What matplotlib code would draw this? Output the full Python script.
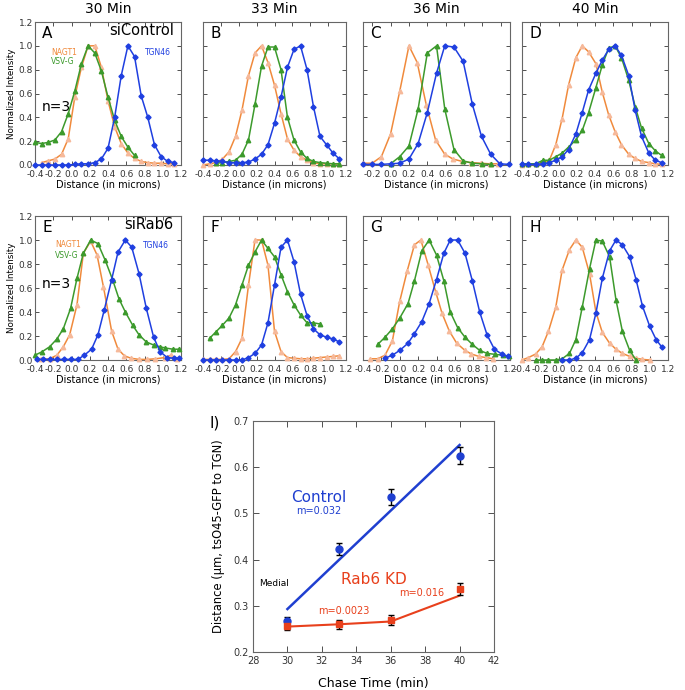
import matplotlib
matplotlib.use("Agg")
import matplotlib.pyplot as plt
import numpy as np

plt.rcParams['font.family'] = ['DejaVu Sans']

# ---------------- data ----------------
col_titles = ["30 Min", "33 Min", "36 Min", "40 Min"]
panel_letters = ["A", "B", "C", "D", "E", "F", "G", "H"]

grid = [-0.400, -0.327, -0.255, -0.182, -0.109, -0.036, 0.036, 0.109, 0.182, 0.255, 0.327,
        0.400, 0.473, 0.545, 0.618, 0.691, 0.764, 0.836, 0.909, 0.982, 1.055, 1.127]

# Panel A (siControl, 30 min)
A_nagt1_x = grid[1:22]
A_nagt1_y = [0.02, 0.035, 0.05, 0.09, 0.22, 0.57, 0.82, 1.0, 1.0, 0.82, 0.54, 0.32, 0.18, 0.10,
             0.055, 0.03, 0.02, 0.015, 0.015, 0.01, 0.01]
A_vsvg_x = grid[0:16]
A_vsvg_y = [0.19, 0.18, 0.19, 0.21, 0.28, 0.43, 0.62, 0.85, 1.0, 0.94, 0.79, 0.57, 0.375, 0.24,
            0.15, 0.08]
A_tgn_x = grid[0:22]
A_tgn_y = [0.0, 0.0, 0.0, 0.0, 0.0, 0.0, 0.005, 0.01, 0.01, 0.02, 0.05, 0.14, 0.40, 0.75, 1.0,
           0.91, 0.58, 0.40, 0.17, 0.07, 0.03, 0.02]

# Panel B (33 min)
B_nagt1_x = grid[0:22]
B_nagt1_y = [0.0, 0.01, 0.02, 0.05, 0.11, 0.24, 0.46, 0.75, 0.94, 1.0, 0.86, 0.67, 0.43, 0.22,
             0.125, 0.07, 0.04, 0.02, 0.01, 0.01, 0.01, 0.005]
B_vsvg_x = grid[2:22]
B_vsvg_y = [0.015, 0.02, 0.03, 0.04, 0.09, 0.21, 0.51, 0.83, 0.99, 0.99, 0.80, 0.40, 0.21, 0.11,
            0.055, 0.03, 0.02, 0.015, 0.01, 0.01]
B_tgn_x = grid[0:22]
B_tgn_y = [0.04, 0.04, 0.035, 0.03, 0.02, 0.02, 0.02, 0.025, 0.05, 0.09, 0.17, 0.35, 0.57, 0.82,
           0.97, 1.0, 0.80, 0.49, 0.24, 0.17, 0.10, 0.05]

# Panel C (36 min)
C_nagt1_x = [-0.30, -0.20, -0.10, 0.00, 0.10, 0.20, 0.29, 0.39, 0.49, 0.59, 0.68, 0.78, 0.88,
             0.98, 1.08, 1.17]
C_nagt1_y = [0.015, 0.015, 0.07, 0.26, 0.62, 1.0, 0.86, 0.5, 0.21, 0.09, 0.05, 0.03, 0.02, 0.015,
             0.01, 0.01]
C_vsvg_x = [0.0, 0.1, 0.2, 0.3, 0.4, 0.5, 0.59, 0.69, 0.79, 0.89, 0.99, 1.09]
C_vsvg_y = [0.01, 0.07, 0.16, 0.47, 0.94, 1.0, 0.47, 0.13, 0.035, 0.015, 0.01, 0.005]
C_tgn_x = [-0.3, -0.2, -0.1, 0.0, 0.1, 0.2, 0.3, 0.4, 0.5, 0.59, 0.69, 0.79, 0.89, 0.99, 1.09,
           1.19, 1.29]
C_tgn_y = [0.005, 0.005, 0.005, 0.01, 0.015, 0.05, 0.18, 0.44, 0.77, 1.0, 0.99, 0.87, 0.51, 0.24,
           0.09, 0.01, 0.005]

# Panel D (40 min)
D_x = [-0.40, -0.33, -0.25, -0.17, -0.10, -0.03, 0.04, 0.11, 0.19, 0.26, 0.33, 0.41, 0.48, 0.55,
       0.62, 0.69, 0.77, 0.84, 0.91, 0.99, 1.06, 1.13]
D_nagt1_y = [0.0, 0.005, 0.01, 0.015, 0.04, 0.17, 0.39, 0.67, 0.90, 1.0, 0.95, 0.85, 0.61, 0.42,
             0.28, 0.17, 0.09, 0.055, 0.03, 0.02, 0.01, 0.005]
D_vsvg_y = [0.01, 0.01, 0.01, 0.04, 0.04, 0.07, 0.10, 0.15, 0.21, 0.29, 0.44, 0.65, 0.84, 0.98,
            1.0, 0.90, 0.71, 0.49, 0.31, 0.18, 0.12, 0.08]
D_tgn_y = [0.005, 0.005, 0.005, 0.01, 0.02, 0.04, 0.07, 0.13, 0.26, 0.44, 0.63, 0.77, 0.88, 0.97,
           1.0, 0.92, 0.75, 0.46, 0.24, 0.10, 0.04, 0.02]

# Panel E (siRab6, 30 min)
E_nagt1_x = [-0.33, -0.24, -0.16, -0.09, -0.02, 0.06, 0.13, 0.21, 0.28, 0.35, 0.44, 0.51, 0.58,
             0.65, 0.74, 0.83, 0.92, 1.02, 1.09, 1.16]
E_nagt1_y = [0.005, 0.01, 0.04, 0.11, 0.21, 0.46, 0.89, 0.99, 0.875, 0.61, 0.24, 0.09, 0.035,
             0.015, 0.005, 0.005, 0.01, 0.02, 0.04, 0.01]
E_vsvg_x = [-0.40, -0.32, -0.24, -0.16, -0.09, -0.01, 0.06, 0.13, 0.21, 0.29, 0.37, 0.45, 0.52,
            0.59, 0.67, 0.74, 0.82, 0.90, 0.97, 1.03, 1.11, 1.18]
E_vsvg_y = [0.04, 0.07, 0.11, 0.175, 0.26, 0.43, 0.68, 0.89, 1.0, 0.97, 0.83, 0.67, 0.51, 0.40,
            0.29, 0.21, 0.15, 0.125, 0.11, 0.10, 0.09, 0.09]
E_tgn_x = [-0.38, -0.31, -0.24, -0.16, -0.08, -0.01, 0.07, 0.14, 0.22, 0.29, 0.36, 0.44, 0.51,
           0.59, 0.66, 0.74, 0.82, 0.90, 0.97, 1.05, 1.12, 1.18]
E_tgn_y = [0.005, 0.005, 0.005, 0.005, 0.005, 0.005, 0.005, 0.04, 0.09, 0.21, 0.42, 0.67, 0.90,
           1.0, 0.94, 0.72, 0.43, 0.19, 0.07, 0.02, 0.015, 0.015]

# Panel F (33 min)
F_nagt1_x = grid[0:22]
F_nagt1_y = [0.005, 0.005, 0.005, 0.005, 0.01, 0.07, 0.18, 0.625, 1.0, 1.0, 0.79, 0.24, 0.07,
             0.02, 0.015, 0.01, 0.01, 0.015, 0.02, 0.025, 0.03, 0.035]
F_vsvg_x = grid[1:19]
F_vsvg_y = [0.18, 0.235, 0.29, 0.35, 0.46, 0.625, 0.79, 0.90, 1.0, 0.93, 0.86, 0.71, 0.57, 0.46,
            0.375, 0.31, 0.31, 0.30]
F_tgn_x = grid[0:22]
F_tgn_y = [0.0, 0.0, 0.0, 0.0, 0.0, 0.0, 0.0, 0.02, 0.055, 0.125, 0.31, 0.625, 0.94, 1.0, 0.82,
           0.55, 0.37, 0.26, 0.21, 0.19, 0.175, 0.15]

# Panel G (36 min)
G_nagt1_x = [-0.32, -0.24, -0.16, -0.08, 0.0, 0.08, 0.16, 0.23, 0.31, 0.39, 0.46, 0.54, 0.62,
             0.71, 0.78, 0.86, 0.94, 1.02]
G_nagt1_y = [0.01, 0.01, 0.04, 0.16, 0.49, 0.74, 0.96, 1.0, 0.79, 0.57, 0.39, 0.24, 0.14, 0.08,
             0.05, 0.03, 0.02, 0.01]
G_vsvg_x = [-0.24, -0.16, -0.08, 0.0, 0.09, 0.16, 0.24, 0.32, 0.40, 0.48, 0.55, 0.63, 0.71, 0.79,
            0.87, 0.95, 1.04, 1.12, 1.19]
G_vsvg_y = [0.13, 0.19, 0.26, 0.35, 0.47, 0.66, 0.91, 1.0, 0.875, 0.66, 0.40, 0.27, 0.19, 0.13,
            0.08, 0.055, 0.047, 0.04, 0.03]
G_tgn_x = [-0.16, -0.08, 0.0, 0.09, 0.16, 0.24, 0.32, 0.40, 0.48, 0.55, 0.63, 0.71, 0.79, 0.87,
           0.95, 1.03, 1.11, 1.18]
G_tgn_y = [0.015, 0.04, 0.08, 0.14, 0.22, 0.32, 0.47, 0.67, 0.89, 1.0, 1.0, 0.89, 0.66, 0.40,
           0.21, 0.09, 0.05, 0.03]

# Panel H (40 min)
H_nagt1_x = [-0.40, -0.33, -0.25, -0.18, -0.11, -0.03, 0.04, 0.12, 0.19, 0.26, 0.34, 0.41, 0.48,
             0.56, 0.63, 0.70, 0.78, 0.85, 0.92, 1.0]
H_nagt1_y = [0.0, 0.02, 0.05, 0.11, 0.24, 0.44, 0.75, 0.92, 1.0, 0.94, 0.72, 0.40, 0.23, 0.14,
             0.09, 0.055, 0.03, 0.015, 0.005, 0.0]
H_vsvg_x = [-0.25, -0.18, -0.11, -0.03, 0.04, 0.12, 0.19, 0.26, 0.34, 0.41, 0.48, 0.56, 0.63,
            0.70, 0.78, 0.85]
H_vsvg_y = [0.0, 0.0, 0.0, 0.0, 0.01, 0.055, 0.17, 0.44, 0.76, 1.0, 0.99, 0.86, 0.50, 0.24,
            0.08, 0.0]
H_tgn_x = [0.04, 0.12, 0.19, 0.26, 0.34, 0.41, 0.48, 0.56, 0.63, 0.70, 0.78, 0.85, 0.92, 1.0,
           1.07, 1.13]
H_tgn_y = [0.0, 0.0, 0.015, 0.06, 0.17, 0.39, 0.68, 0.91, 1.0, 0.96, 0.86, 0.67, 0.45, 0.28,
           0.17, 0.11]

# Panel I
chase_time = [30, 33, 36, 40]
control_dist = [0.267, 0.422, 0.535, 0.625]
control_err = [0.008, 0.013, 0.017, 0.019]
control_fit_t = [30, 40]
control_fit_d = [0.293, 0.648]
rab6_dist = [0.256, 0.260, 0.270, 0.336]
rab6_err = [0.009, 0.010, 0.011, 0.013]
rab6_fit_d = [0.255, 0.260, 0.266, 0.322]

# ---------------- style ----------------
C_OR = '#f08a3c'
C_OR_M = '#f6b99a'
C_GR = '#3c9a2c'
C_BL = '#1f3fe0'
SPINE = '#666666'

fig = plt.figure(figsize=(6.85, 6.9), dpi=100)
W, H = 685.0, 690.0

def ax_at(x0, y0, x1, y1):
    return fig.add_axes([x0 / W, 1 - y1 / H, (x1 - x0) / W, (y1 - y0) / H])

cols = [(35, 181), (203, 346), (363, 510), (522, 668)]
rows = [(22, 165), (216, 360)]
xlims = [(-0.4, 1.2), (-0.4, 1.2), (-0.3, 1.3), (-0.4, 1.2),
         (-0.4, 1.2), (-0.4, 1.2), (-0.4, 1.2), (-0.4, 1.2)]
xticks_list = [[-0.4, -0.2, 0.0, 0.2, 0.4, 0.6, 0.8, 1.0, 1.2]] * 8
xticks_list[2] = [-0.2, 0.0, 0.2, 0.4, 0.6, 0.8, 1.0, 1.2]

series = [
    ((A_nagt1_x, A_nagt1_y), (A_vsvg_x, A_vsvg_y), (A_tgn_x, A_tgn_y)),
    ((B_nagt1_x, B_nagt1_y), (B_vsvg_x, B_vsvg_y), (B_tgn_x, B_tgn_y)),
    ((C_nagt1_x, C_nagt1_y), (C_vsvg_x, C_vsvg_y), (C_tgn_x, C_tgn_y)),
    ((D_x, D_nagt1_y), (D_x, D_vsvg_y), (D_x, D_tgn_y)),
    ((E_nagt1_x, E_nagt1_y), (E_vsvg_x, E_vsvg_y), (E_tgn_x, E_tgn_y)),
    ((F_nagt1_x, F_nagt1_y), (F_vsvg_x, F_vsvg_y), (F_tgn_x, F_tgn_y)),
    ((G_nagt1_x, G_nagt1_y), (G_vsvg_x, G_vsvg_y), (G_tgn_x, G_tgn_y)),
    ((H_nagt1_x, H_nagt1_y), (H_vsvg_x, H_vsvg_y), (H_tgn_x, H_tgn_y)),
]

for i in range(8):
    r, c = divmod(i, 4)
    ax = ax_at(cols[c][0], rows[r][0], cols[c][1], rows[r][1])
    (ox, oy), (gx, gy), (bx, by) = series[i]
    ax.plot(ox, oy, color=C_OR, lw=1.1, marker='^', ms=3.2, mfc=C_OR_M, mec=C_OR_M,
            clip_on=False, zorder=3)
    ax.plot(gx, gy, color=C_GR, lw=1.1, marker='^', ms=3.2, mfc=C_GR, mec=C_GR,
            clip_on=False, zorder=4)
    ax.plot(bx, by, color=C_BL, lw=1.1, marker='D', ms=2.6, mfc=C_BL, mec=C_BL,
            clip_on=False, zorder=5)
    ax.set_xlim(*xlims[i])
    ax.set_ylim(0, 1.2)
    ax.set_xticks(xticks_list[i])
    ax.set_xticklabels(['%.1f' % t for t in xticks_list[i]])
    ax.set_yticks([0.0, 0.2, 0.4, 0.6, 0.8, 1.0, 1.2])
    ax.tick_params(direction='in', length=3, width=0.6, top=True, right=True,
                   labelsize=6.5, colors='#333333')
    ax.tick_params(axis='x', pad=3.5)
    ax.tick_params(axis='y', pad=1.5)
    if c == 0:
        ax.set_yticklabels(['%.1f' % t for t in [0.0, 0.2, 0.4, 0.6, 0.8, 1.0, 1.2]])
        ax.set_ylabel('Normalized Intensity', fontsize=6.3, labelpad=2)
    else:
        ax.set_yticklabels([])
    ax.set_xlabel('Distance (in microns)', fontsize=7, labelpad=0.5)
    for s in ax.spines.values():
        s.set_color(SPINE)
        s.set_linewidth(0.8)
    ax.text(0.05, 0.97, panel_letters[i], transform=ax.transAxes, fontsize=11,
            va='top', ha='left')
    if r == 0:
        ax.text(0.5, 1.04, col_titles[c], transform=ax.transAxes, fontsize=10,
                ha='center', va='bottom')
    if i == 0:
        ax.text(1.12, 1.13, 'siControl', fontsize=10.5, ha='right', va='center')
        ax.text(-0.22, 0.94, 'NAGT1', fontsize=5.5, color=C_OR, va='center')
        ax.text(-0.22, 0.87, 'VSV-G', fontsize=5.5, color=C_GR, va='center')
        ax.text(0.80, 0.94, 'TGN46', fontsize=5.5, color=C_BL, va='center')
        ax.text(-0.33, 0.49, 'n=3', fontsize=10, va='center')
    if i == 4:
        ax.text(1.12, 1.13, 'siRab6', fontsize=10.5, ha='right', va='center')
        ax.text(-0.18, 0.96, 'NAGT1', fontsize=5.5, color=C_OR, va='center')
        ax.text(-0.18, 0.875, 'VSV-G', fontsize=5.5, color=C_GR, va='center')
        ax.text(0.78, 0.95, 'TGN46', fontsize=5.5, color=C_BL, va='center')
        ax.text(-0.33, 0.63, 'n=3', fontsize=10, va='center')

# Panel I
axI = ax_at(253, 421, 494, 652)
C_RED = '#e8401c'
C_BLUE2 = '#1f3fd0'
axI.plot(control_fit_t, control_fit_d, color=C_BLUE2, lw=1.8, zorder=2)
axI.errorbar(chase_time, control_dist, yerr=control_err, fmt='o', color=C_BLUE2, ms=5,
             ecolor='black', elinewidth=1, capsize=2.5, capthick=1, zorder=3)
axI.plot(chase_time, rab6_fit_d, color=C_RED, lw=1.5, zorder=2)
axI.errorbar(chase_time, rab6_dist, yerr=rab6_err, fmt='s', color=C_RED, ms=5,
             ecolor='black', elinewidth=1, capsize=2.5, capthick=1, zorder=3)
axI.set_xlim(28, 42)
axI.set_ylim(0.2, 0.7)
axI.set_xticks([28, 30, 32, 34, 36, 38, 40, 42])
axI.set_yticks([0.2, 0.3, 0.4, 0.5, 0.6, 0.7])
axI.set_yticklabels(['0.2', '0.3', '0.4', '0.5', '0.6', '0.7'])
axI.tick_params(direction='in', length=4, width=0.6, top=True, right=True,
                labelsize=7, pad=3, colors='#333333')
for s in axI.spines.values():
    s.set_color(SPINE)
    s.set_linewidth(0.8)
axI.set_xlabel('Chase Time (min)', fontsize=9, labelpad=8)
axI.set_ylabel('Distance (\u03bcm, tsO45-GFP to TGN)', fontsize=8.3, labelpad=6)
axI.text(31.8, 0.535, 'Control', color=C_BLUE2, fontsize=11, ha='center', va='center')
axI.text(31.8, 0.505, 'm=0.032', color=C_BLUE2, fontsize=7, ha='center', va='center')
axI.text(35.0, 0.357, 'Rab6 KD', color=C_RED, fontsize=11, ha='center', va='center')
axI.text(33.25, 0.289, 'm=0.0023', color=C_RED, fontsize=7, ha='center', va='center')
axI.text(37.8, 0.327, 'm=0.016', color=C_RED, fontsize=7, ha='center', va='center')
axI.text(29.22, 0.349, 'Medial', color='black', fontsize=6.5, ha='center', va='center')
fig.text(215 / W, 1 - 423 / H, 'I)', fontsize=11, ha='center', va='center')

fig.savefig('out.png', dpi=100)
